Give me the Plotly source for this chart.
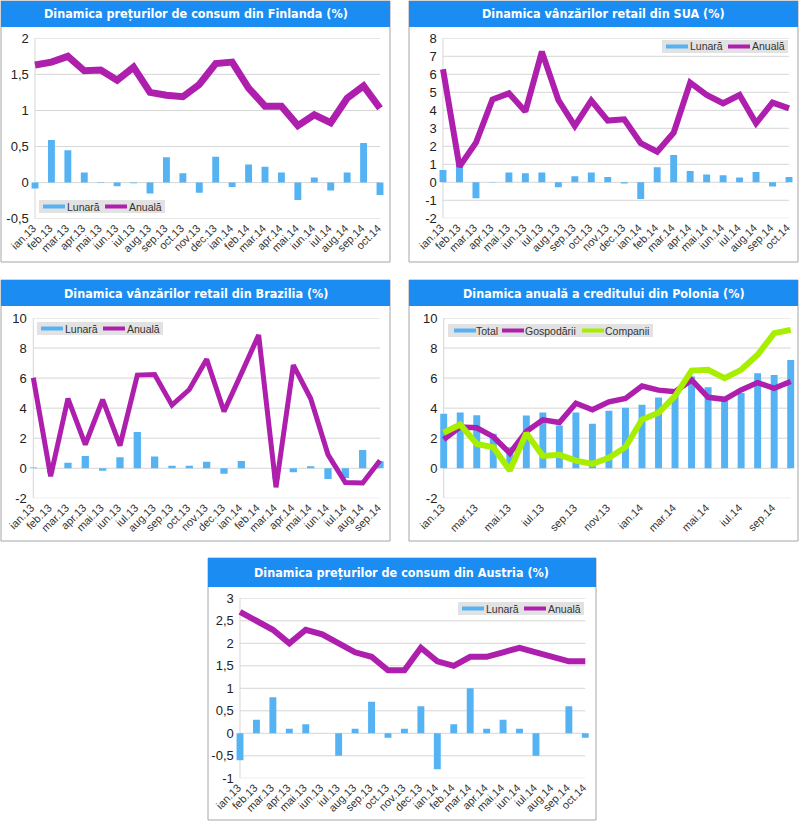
import plotly.graph_objects as go

# ---------------- data ----------------
months = ["ian.13", "feb.13", "mar.13", "apr.13", "mai.13", "iun.13", "iul.13", "aug.13",
          "sep.13", "oct.13", "nov.13", "dec.13", "ian.14", "feb.14", "mar.14", "apr.14",
          "mai.14", "iun.14", "iul.14", "aug.14", "sep.14", "oct.14"]
months_bra = months[:21]

fin_title = "Dinamica prețurilor de consum din Finlanda (%)"
fin_lunara = [-0.08, 0.59, 0.45, 0.14, 0.01, -0.05, -0.01, -0.15, 0.35, 0.13, -0.14,
              0.36, -0.06, 0.25, 0.22, 0.14, -0.24, 0.07, -0.11, 0.14, 0.55, -0.17]
fin_anuala = [1.63, 1.67, 1.75, 1.55, 1.56, 1.42, 1.60, 1.25, 1.21, 1.19, 1.36,
              1.65, 1.67, 1.31, 1.06, 1.06, 0.79, 0.94, 0.83, 1.17, 1.34, 1.03]
fin_yticks = [-0.5, 0, 0.5, 1, 1.5, 2]
fin_yticklabels = ["-0,5", "0", "0,5", "1", "1,5", "2"]

sua_title = "Dinamica vânzărilor retail din SUA (%)"
sua_lunara = [0.69, 1.0, -0.89, 0.02, 0.54, 0.5, 0.54, -0.28, 0.33, 0.54, 0.3,
              -0.06, -0.93, 0.83, 1.52, 0.63, 0.44, 0.39, 0.26, 0.57, -0.24, 0.3]
sua_anuala = [6.28, 0.87, 2.2, 4.6, 4.94, 3.93, 7.26, 4.57, 3.13, 4.54, 3.43,
              3.5, 2.17, 1.7, 2.76, 5.54, 4.85, 4.39, 4.85, 3.28, 4.43, 4.11]
sua_yticks = [-2, -1, 0, 1, 2, 3, 4, 5, 6, 7, 8]
sua_yticklabels = ["-2", "-1", "0", "1", "2", "3", "4", "5", "6", "7", "8"]

bra_title = "Dinamica vânzărilor retail din Brazilia (%)"
bra_lunara = [0.05, -0.3, 0.36, 0.82, -0.16, 0.73, 2.42, 0.78, 0.16, 0.16, 0.44,
              -0.36, 0.49, 0.0, -0.73, -0.27, 0.13, -0.71, -0.65, 1.22, 0.47]
bra_anuala = [6.02, -0.53, 4.64, 1.58, 4.56, 1.51, 6.2, 6.24, 4.2, 5.24, 7.25,
              3.78, 6.3, 8.87, -1.27, 6.87, 4.64, 0.91, -0.95, -0.98, 0.51]
bra_yticks = [-2, 0, 2, 4, 6, 8, 10]
bra_yticklabels = ["-2", "0", "2", "4", "6", "8", "10"]

pol_title = "Dinamica anuală a creditului din Polonia (%)"
pol_total = [3.62, 3.71, 3.53, 2.29, 1.4, 3.51, 3.71, 2.85, 3.71, 2.96, 3.82,
             4.02, 4.22, 4.71, 4.85, 6.1, 5.39, 4.55, 5.0, 6.32, 6.21, 7.21]
pol_gosp = [1.91, 2.75, 2.69, 2.1, 1.0, 2.44, 3.22, 3.04, 4.33, 3.89, 4.42,
            4.64, 5.47, 5.2, 5.09, 5.88, 4.72, 4.59, 5.21, 5.7, 5.32, 5.77]
pol_comp = [2.36, 2.91, 1.62, 1.4, -0.15, 2.33, 0.82, 0.89, 0.51, 0.29, 0.69,
            1.4, 3.24, 3.69, 4.8, 6.5, 6.55, 5.99, 6.55, 7.55, 8.99, 9.21]
pol_xticks = months[::2]
pol_yticks = bra_yticks
pol_yticklabels = bra_yticklabels

aut_title = "Dinamica prețurilor de consum din Austria (%)"
aut_lunara = [-0.6, 0.3, 0.8, 0.1, 0.2, 0.0, -0.5, 0.1, 0.7, -0.1, 0.1,
              0.6, -0.8, 0.2, 1.0, 0.1, 0.3, 0.1, -0.5, 0.0, 0.6, -0.1]
aut_anuala = [2.7, 2.5, 2.3, 2.0, 2.3, 2.2, 2.0, 1.8, 1.7, 1.4, 1.4,
              1.9, 1.6, 1.5, 1.7, 1.7, 1.8, 1.9, 1.8, 1.7, 1.6, 1.6]
aut_yticks = [-1, -0.5, 0, 0.5, 1, 1.5, 2, 2.5, 3]
aut_yticklabels = ["-1", "-0,5", "0", "0,5", "1", "1,5", "2", "2,5", "3"]

# ---------------- style ----------------
W, H = 800, 822
BLUE = "#55B3F3"
MAG = "#AE1FAE"
GREEN = "#A8EE00"
HEAD = "#1A8CF2"
GRID = "#D6D6D6"
BORDER = "#A6A6A6"
LEGBG = "#E2E2E2"
FONT = "Liberation Sans, Arial, sans-serif"
TFONT = "Liberation Sans Narrow, DejaVu Sans Condensed, Arial Narrow, sans-serif"
PAD = 0.32

fig = go.Figure()
shapes = []
annotations = []
layout = dict(width=W, height=H, margin=dict(l=0, r=0, t=0, b=0),
              paper_bgcolor="white", plot_bgcolor="rgba(0,0,0,0)",
              separators=", ", showlegend=False, hovermode=False,
              font=dict(family=FONT, color="#222"))


def px2x(p):
    return p / W


def px2y(p):
    return 1 - p / H


LEG2 = dict(w=126, sym=[4, 66], txt=[28, 90])
LEG3 = dict(w=205, sym=[6, 54, 134], txt=[28, 77, 157])

panels = [
    dict(title=fin_title, box=(1, 1, 390, 262), hb=27, c0=35, c1=380, yt=38.3, yb=218.7,
         cats=months, yr=(-0.5, 2), yt_v=fin_yticks, yt_t=fin_yticklabels,
         bars=[("Lunară", fin_lunara, BLUE)], lines=[("Anuală", fin_anuala, MAG, 7)],
         leg=(39, 200, 213), lg=LEG2, xticks=months),
    dict(title=sua_title, box=(409, 1, 798, 262), hb=27, c0=443, c1=789, yt=38.3, yb=218.3,
         cats=months, yr=(-2, 8), yt_v=sua_yticks, yt_t=sua_yticklabels,
         bars=[("Lunară", sua_lunara, BLUE)], lines=[("Anuală", sua_anuala, MAG, 6)],
         leg=(662, 40, 53), lg=LEG2, xticks=months),
    dict(title=bra_title, box=(1, 280, 390, 541), hb=306, c0=33.3, c1=380, yt=318, yb=498.3,
         cats=months_bra, yr=(-2, 10), yt_v=bra_yticks, yt_t=bra_yticklabels,
         bars=[("Lunară", bra_lunara, BLUE)], lines=[("Anuală", bra_anuala, MAG, 5)],
         leg=(37, 322, 335), lg=LEG2, xticks=months_bra),
    dict(title=pol_title, box=(409, 280, 798, 541), hb=306, c0=443.7, c1=790.7, yt=318, yb=498.3,
         cats=months, yr=(-2, 10), yt_v=pol_yticks, yt_t=pol_yticklabels,
         bars=[("Total", pol_total, BLUE)],
         lines=[("Gospodării", pol_gosp, MAG, 5.5), ("Companii", pol_comp, GREEN, 6)],
         leg=(448, 324, 337), lg=LEG3, xticks=pol_xticks),
    dict(title=aut_title, box=(208, 558, 596, 820), hb=587, c0=240, c1=585.3, yt=598.3, yb=778.3,
         cats=months, yr=(-1, 3), yt_v=aut_yticks, yt_t=aut_yticklabels,
         bars=[("Lunară", aut_lunara, BLUE)], lines=[("Anuală", aut_anuala, MAG, 6)],
         leg=(458, 602, 615), lg=LEG2, xticks=months),
]

for i, p in enumerate(panels):
    k = "" if i == 0 else str(i + 1)
    xa, ya = "x" + k, "y" + k
    n = len(p["cats"])
    sp = (p["c1"] - p["c0"]) / (n - 1)
    xl, xr = p["c0"] - PAD * sp, p["c1"] + PAD * sp

    bx0, by0, bx1, by1 = p["box"]
    # panel frame and header
    shapes.append(dict(type="rect", xref="paper", yref="paper", layer="below",
                       x0=px2x(bx0), x1=px2x(bx1), y0=px2y(by1), y1=px2y(by0),
                       line=dict(color=BORDER, width=1), fillcolor="white"))
    shapes.append(dict(type="rect", xref="paper", yref="paper", layer="below",
                       x0=px2x(bx0), x1=px2x(bx1), y0=px2y(p["hb"]), y1=px2y(by0),
                       line=dict(width=0), fillcolor=HEAD))
    annotations.append(dict(xref="paper", yref="paper", x=px2x((bx0 + bx1) / 2),
                            y=px2y((by0 + p["hb"]) / 2), text="<b>%s</b>" % p["title"],
                            showarrow=False, xanchor="center", yanchor="middle",
                            font=dict(family=TFONT, size=12.5, color="white")))
    # grid lines
    for v in p["yt_v"]:
        shapes.append(dict(type="line", xref=xa, yref=ya, layer="below",
                           x0=0, x1=n - 1, y0=v, y1=v, line=dict(color=GRID, width=1)))
    shapes.append(dict(type="line", xref=xa, yref=ya, layer="below",
                       x0=0, x1=0, y0=p["yr"][0], y1=p["yr"][1], line=dict(color=GRID, width=1)))

    layout["xaxis" + k] = dict(domain=[px2x(xl), px2x(xr)], anchor=ya, type="category",
                               range=[-PAD, n - 1 + PAD], showgrid=False, zeroline=False,
                               showline=False, tickangle=-45, automargin=False,
                               ticklabelshift=-2, fixedrange=True,
                               tickmode="array", tickvals=p["xticks"], ticktext=p["xticks"],
                               tickfont=dict(size=11, color="#333", family=FONT))
    layout["yaxis" + k] = dict(domain=[px2y(p["yb"]), px2y(p["yt"])], anchor=xa,
                               range=list(p["yr"]), showgrid=False, zeroline=False,
                               showline=False, automargin=False, tickmode="array",
                               tickvals=p["yt_v"], ticktext=p["yt_t"], ticks="",
                               fixedrange=True,
                               tickfont=dict(size=13, color="#222", family=FONT))

    # legend drawn as box + line samples + texts
    L, lt, lb = p["leg"]
    lg = p["lg"]
    shapes.append(dict(type="rect", xref="paper", yref="paper", layer="above",
                       x0=px2x(L), x1=px2x(L + lg["w"]), y0=px2y(lb), y1=px2y(lt),
                       line=dict(width=0), fillcolor=LEGBG))
    items = [(nm, col) for nm, _, col in p["bars"]] + [(nm, col) for nm, _, col, _ in p["lines"]]
    ym = (lt + lb) / 2
    for j, (nm, col) in enumerate(items):
        s0 = L + lg["sym"][j]
        shapes.append(dict(type="line", xref="paper", yref="paper", layer="above",
                           x0=px2x(s0), x1=px2x(s0 + 22), y0=px2y(ym), y1=px2y(ym),
                           line=dict(color=col, width=4)))
        annotations.append(dict(xref="paper", yref="paper", x=px2x(L + lg["txt"][j]),
                                y=px2y(ym), text=nm, showarrow=False, xanchor="left",
                                yanchor="middle", xshift=-2,
                                font=dict(size=10.5, color="#333", family=FONT)))

    for name, vals, col in p["bars"]:
        fig.add_trace(go.Bar(x=p["cats"], y=vals, xaxis=xa, yaxis=ya, marker_color=col,
                             marker_line_width=0, width=0.42, name=name))
    for name, vals, col, lw in p["lines"]:
        fig.add_trace(go.Scatter(x=p["cats"], y=vals, xaxis=xa, yaxis=ya, mode="lines",
                                 line=dict(color=col, width=lw), name=name))

layout["shapes"] = shapes
layout["annotations"] = annotations
fig.update_layout(**layout)
fig.write_html("out.html", config={"displayModeBar": False, "staticPlot": True},
               post_script="document.body.style.margin='0';document.body.style.overflow='hidden';")
